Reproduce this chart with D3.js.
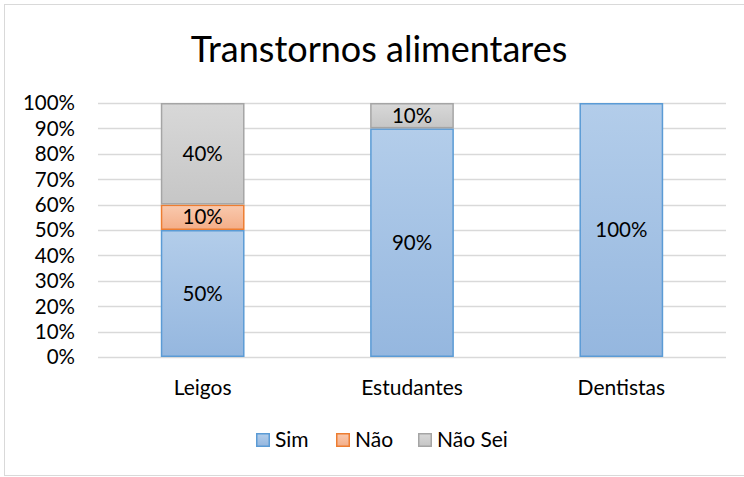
<!DOCTYPE html>
<html><head><meta charset="utf-8">
<script src="https://cdn.jsdelivr.net/npm/d3@7"></script>
<style>body{margin:0;background:#fff}svg{display:block}text{font-family:Lato,"Open Sans",sans-serif;fill:#000}</style>
</head><body><svg id="c" width="744" height="477"></svg>
<script>
const title = "Transtornos alimentares";
const categories = ["Leigos","Estudantes","Dentistas"];
const seriesNames = ["Sim","Não","Não Sei"];
const sim = [0.5, 0.9, 1.0];
const nao = [0.1, 0, 0];
const naoSei = [0.4, 0.1, 0];
const yTicks = [0,0.1,0.2,0.3,0.4,0.5,0.6,0.7,0.8,0.9,1.0];

(function(){
const svg = d3.select("#c");
const styles = [
  {top:"#b3cdea", bot:"#95b7df", stroke:"#5b9bd5"},
  {top:"#f9c9ae", bot:"#f4ae88", stroke:"#ed7d31"},
  {top:"#d8d8d8", bot:"#c6c6c6", stroke:"#a5a5a5"}
];
const defs = svg.append("defs");
styles.forEach((s,i)=>{
  const g = defs.append("linearGradient").attr("id","g"+i).attr("x1",0).attr("y1",0).attr("x2",0).attr("y2",1);
  g.append("stop").attr("offset","0%").attr("stop-color",s.top);
  g.append("stop").attr("offset","100%").attr("stop-color",s.bot);
});

svg.append("rect").attr("x",4.5).attr("y",4.5).attr("width",760).attr("height",471)
  .attr("fill","none").attr("stroke","#d9d9d9").attr("stroke-width",1);

const pL=98, pR=726, pT=103, pB=357;
const x = d3.scaleBand().domain(categories).range([pL,pR]).paddingInner(0.6).paddingOuter(0.3);
const y = d3.scaleLinear().domain([0,1]).range([pB,pT]);

svg.append("g").selectAll("line").data(yTicks).join("line")
  .attr("x1",pL).attr("x2",pR).attr("y1",d=>Math.round(y(d))+0.5).attr("y2",d=>Math.round(y(d))+0.5)
  .attr("stroke","#d9d9d9").attr("stroke-width",1.3);

const yAxis = d3.axisLeft(y).tickValues(yTicks).tickFormat(d3.format(".0%")).tickSize(0).tickPadding(0);
const ya = svg.append("g").attr("transform",`translate(75,0)`).call(yAxis);
ya.select(".domain").remove();
ya.selectAll("text").attr("font-size",20.5).attr("font-family","Lato,sans-serif").attr("fill","#000").attr("dy","0.34em");

const rows = categories.map((c,i)=>({cat:c, "Sim":sim[i], "Não":nao[i], "Não Sei":naoSei[i]}));
const stack = d3.stack().keys(seriesNames)(rows);

const g = svg.append("g");
stack.forEach((layer,si)=>{
  layer.forEach(d=>{
    const v = d[1]-d[0];
    if (v<=0) return;
    const x0 = x(d.data.cat), w = x.bandwidth();
    const y0 = y(d[1]), h = y(d[0])-y(d[1]);
    g.append("rect").attr("x",x0+0.75).attr("y",y0+0.75).attr("width",w-1.5).attr("height",h-1.5)
      .attr("fill",`url(#g${si})`).attr("stroke",styles[si].stroke).attr("stroke-width",1.5);
    g.append("text").attr("x",x0+w/2).attr("y",(y0+h/2)).attr("dy","0.35em")
      .attr("text-anchor","middle").attr("font-size",20.5).text(d3.format(".0%")(v));
  });
});

const xAxis = d3.axisBottom(x).tickSize(0).tickPadding(0);
const xa = svg.append("g").attr("transform",`translate(0,388)`).call(xAxis);
xa.select(".domain").remove();
xa.selectAll("text").attr("font-size",21).attr("font-family","Lato,sans-serif").attr("fill","#000").attr("dy","0.35em");

svg.append("text").attr("x",379).attr("y",49).attr("dy","0.35em").attr("text-anchor","middle")
  .attr("font-size",36).text(title);

const legX = [256, 336, 418];
const lg = svg.append("g");
seriesNames.forEach((n,i)=>{
  lg.append("rect").attr("x",legX[i]+0.75).attr("y",433.75).attr("width",12.5).attr("height",12.5)
    .attr("fill",`url(#g${i})`).attr("stroke",styles[i].stroke).attr("stroke-width",1.5);
  lg.append("text").attr("x",legX[i]+19).attr("y",440).attr("dy","0.35em").attr("font-size",21).text(n);
});
})();
</script></body></html>
